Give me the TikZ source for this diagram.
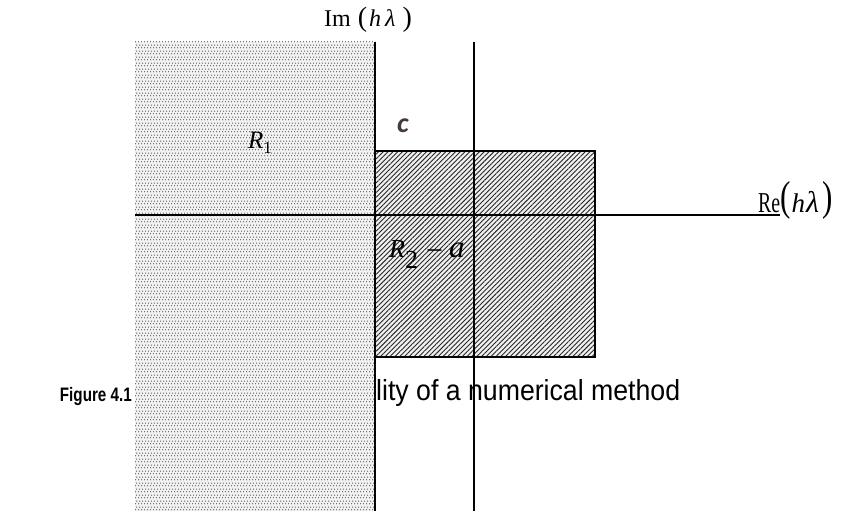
\documentclass[tikz,border=0pt]{standalone}
\usepackage{fontspec}
\setmainfont{Liberation Serif}
\newfontfamily\arialfont{Liberation Sans}
\newfontfamily\calfont{Carlito}
\usetikzlibrary{patterns.meta}
\definecolor{cdark}{RGB}{70,58,55}
\tikzdeclarepattern{
  name=stabdots, type=uncolored,
  bounding box={(0pt,0pt) and (3pt,6pt)},
  tile size={(3pt,6pt)},
  code={\fill (0.75pt,1.5pt) circle (0.8pt); \fill (2.25pt,4.5pt) circle (0.8pt);}
}
\begin{document}
\begin{tikzpicture}[x=1pt,y=-1pt,
  axisline/.style={line width=2pt, black},
  lbl/.style={inner sep=0pt, anchor=base west}]
\useasboundingbox (0,0) rectangle (841,511);
% caption (partly hidden by the dotted region)
\node[inner sep=0pt, anchor=base west] (capB) at (376,400)
  {\arialfont\scalebox{0.92}[1]{\fontsize{29}{29}\selectfont lity of a numerical method}};
\node[inner sep=0pt, anchor=base east] (capA) at (132,401)
  {\arialfont\bfseries\scalebox{0.78}[1]{\fontsize{19.5}{19.5}\selectfont Figure 4.1}};
% region R1 (dotted)
\fill[gray!10] (135,42) rectangle (375,511);
\fill[pattern={stabdots}, pattern color=gray!80!black] (135,42) rectangle (375,511);
% region R2 (hatched)
\fill[gray!12] (375,151) rectangle (595,357);
\fill[pattern={Lines[angle=45,distance=3.4pt,line width=0.9pt]}, pattern color=gray!30!black] (375,151) rectangle (595,357);
\draw[line width=1.5pt] (375,151) rectangle (595,357);
% axes
\draw[axisline] (375,42) -- (375,511);
\draw[axisline] (474,42) -- (474,511);
\draw[axisline] (135,215) -- (780,215);
% labels
\node[lbl] (imlab) at (324,27)
  {\fontsize{24}{24}\selectfont Im\hspace{7pt}{\fontsize{28}{28}\selectfont(}\hspace{2pt}\textit{h}\hspace{4pt}\textit{λ}\hspace{7pt}{\fontsize{28}{28}\selectfont)}};
\node[lbl] (relab) at (758,212)
  {\scalebox{0.825}[1.2]{\fontsize{24}{24}\selectfont Re}\raisebox{2pt}{\scalebox{1}[1.35]{\fontsize{31}{31}\selectfont(}}\hspace{1pt}\fontsize{27}{27}\selectfont\textit{h}\hspace{1pt}{\fontsize{30}{30}\selectfont\textit{λ}}\hspace{3pt}\raisebox{2pt}{\scalebox{1}[1.35]{\fontsize{31}{31}\selectfont)}}};
\node[lbl] (r1lab) at (248,148)
  {\fontsize{25}{25}\selectfont\textit{R}\raisebox{-5pt}{\fontsize{17}{17}\selectfont 1}};
\node[inner sep=0pt, text=cdark] (clab) at (403,126)
  {\calfont\bfseries\itshape\fontsize{28}{28}\selectfont c};
\node[lbl] (r2lab) at (389,257)
  {\fontsize{26}{26}\selectfont\textit{R}\raisebox{-11pt}{\fontsize{26}{26}\selectfont 2}\hspace{8pt}\raisebox{-3pt}{\fontsize{30}{30}\selectfont −}\hspace{6pt}{\fontsize{31}{31}\selectfont\textit{a}}};
\end{tikzpicture}
\end{document}
